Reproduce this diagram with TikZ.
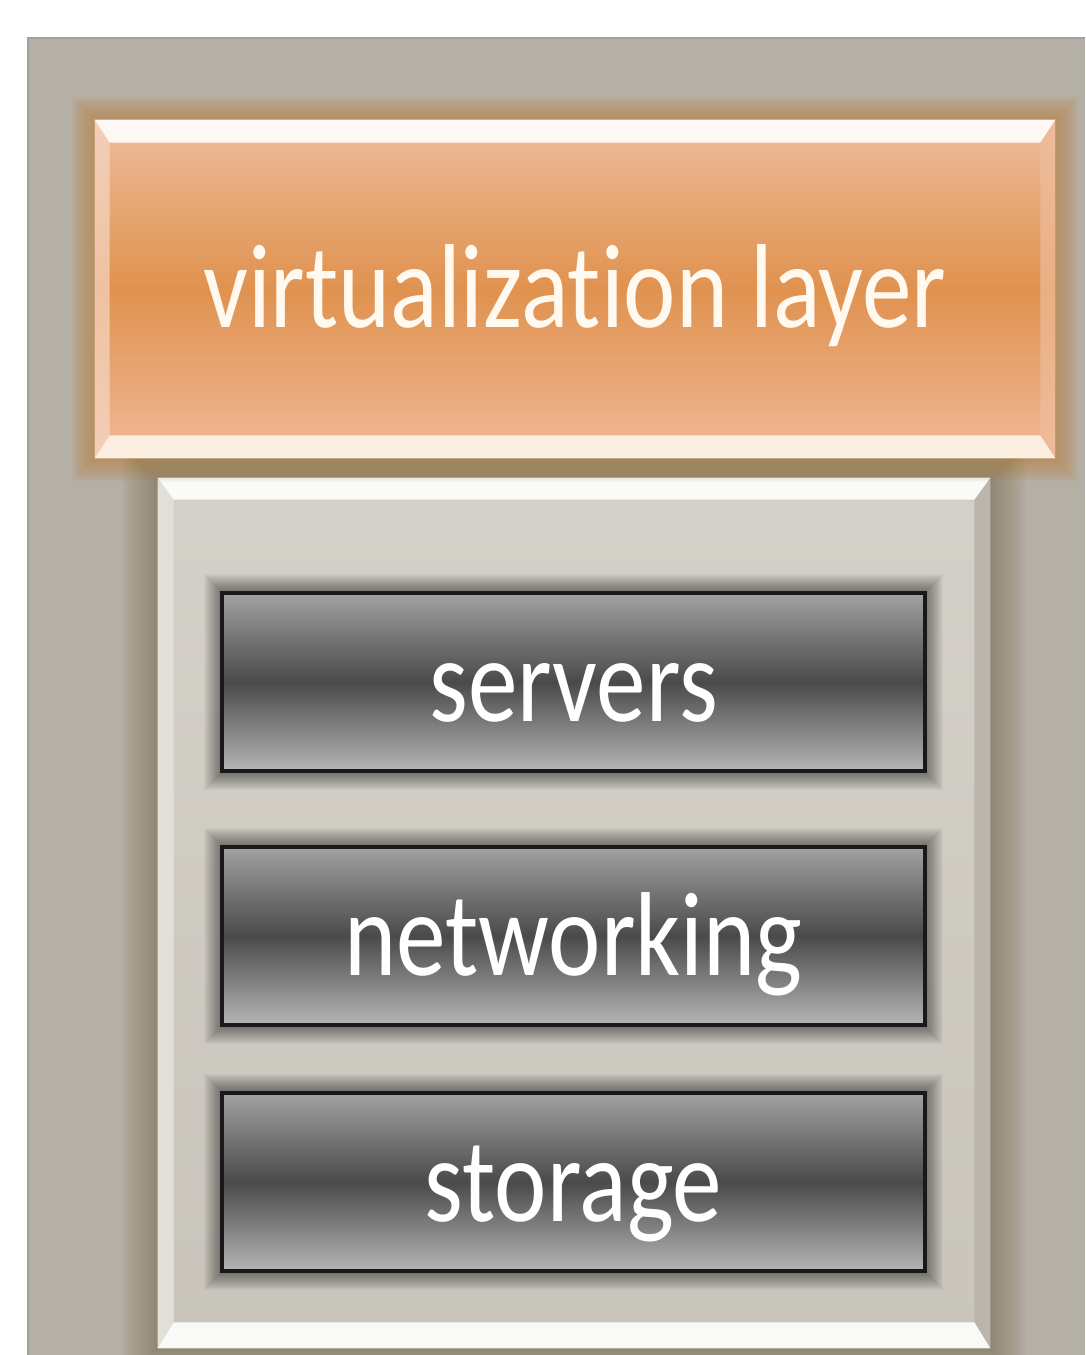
\documentclass[tikz,border=0pt]{standalone}
\usepackage{fontspec}
\setmainfont[Ligatures=NoCommon]{Carlito}
\definecolor{panelgray}{HTML}{B5B0A6}
\definecolor{panelline}{HTML}{A3A19C}
\definecolor{framegray}{HTML}{C9C5BC}
\definecolor{framedark}{HTML}{BBB6AC}
\definecolor{framelight}{HTML}{E2DFD8}
\definecolor{shadowbrown}{HTML}{7E715C}
\definecolor{glowbrown}{HTML}{B8853F}
\definecolor{orangetop}{HTML}{EEBD9C}
\definecolor{orangemid}{HTML}{E0924F}
\definecolor{orangebot}{HTML}{F0B999}
\definecolor{darktop}{HTML}{A2A2A2}
\definecolor{darkmid}{HTML}{4A4A4A}
\definecolor{darkbot}{HTML}{B6B6B6}
\definecolor{creamtext}{HTML}{FFF9F0}
\newcommand{\narrowtext}[1]{\scalebox{0.83}[1]{#1}}
\begin{document}
\begin{tikzpicture}[
    x=0.02cm, y=-0.02cm,
    layerbox/.style={rectangle, minimum width=19.2cm, minimum height=6.76cm, top color=orangetop, bottom color=orangebot, middle color=orangemid, text=creamtext, font=\fontsize{68}{80}\selectfont, text height=1.56cm, text depth=0pt, inner sep=0pt},
    stackframe/.style={rectangle, minimum width=16.64cm, minimum height=17.4cm, top color=framegray!80!white, bottom color=framegray, inner sep=0pt},
    hwbox/.style={rectangle, draw=black!90, line width=0.08cm, minimum width=14.06cm, minimum height=3.58cm, top color=darktop, bottom color=darkbot, middle color=darkmid, text=white, font=\fontsize{68}{80}\selectfont, text height=1.56cm, text depth=0pt, inner sep=0pt},
    bevel/.style={fill=white, opacity=0.9}
]
    \useasboundingbox (0,0) rectangle (1085,1355);
    \fill[white] (0,0) rectangle (1085,1355);

    % Background panel
    \fill[panelgray] (28,38) rectangle (1085,1355);
    \draw[panelline, line width=0.05cm] (28,1355) -- (28,38) -- (1085,38);

    % Stack frame with its shadow
    \node[stackframe] (stack) at (574,913) {};
    \foreach \g in {36,...,1}
        \fill[shadowbrown, opacity=0.018] ([shift={(-\g,-\g)}]stack.north west) rectangle ([shift={(\g,\g)}]stack.south east);
    \node[stackframe] (stack) at (574,913) {};
    \fill[framelight] (stack.north west) -- ([shift={(16,22)}]stack.north west) -- ([shift={(16,-26)}]stack.south west) -- (stack.south west) -- cycle;
    \fill[framedark] (stack.north east) -- ([shift={(-16,22)}]stack.north east) -- ([shift={(-16,-26)}]stack.south east) -- (stack.south east) -- cycle;
    \fill[bevel] (stack.north west) -- (stack.north east) -- ([shift={(-16,22)}]stack.north east) -- ([shift={(16,22)}]stack.north west) -- cycle;
    \fill[bevel] (stack.south west) -- (stack.south east) -- ([shift={(-16,-26)}]stack.south east) -- ([shift={(16,-26)}]stack.south west) -- cycle;

    % Virtualization layer with its glow
    \foreach \g in {24,...,1}
        \fill[glowbrown, opacity=0.035] (95-\g,120-\g) rectangle (1055+\g,458+\g);
    \node[layerbox] (virt) at (575,289) {\narrowtext{virtualization layer}};
    \fill[orangetop!60!white, opacity=0.7] (virt.north west) -- ([shift={(15,23)}]virt.north west) -- ([shift={(15,-23)}]virt.south west) -- (virt.south west) -- cycle;
    \fill[orangetop, opacity=0.7] (virt.north east) -- ([shift={(-15,23)}]virt.north east) -- ([shift={(-15,-23)}]virt.south east) -- (virt.south east) -- cycle;
    \fill[bevel] (virt.north west) -- (virt.north east) -- ([shift={(-15,23)}]virt.north east) -- ([shift={(15,23)}]virt.north west) -- cycle;
    \fill[creamtext, opacity=0.85] (virt.south west) -- (virt.south east) -- ([shift={(-15,-23)}]virt.south east) -- ([shift={(15,-23)}]virt.south west) -- cycle;

    % Hardware boxes with their shadows
    \foreach \y in {682, 936, 1182}
        \foreach \g in {18,...,1}
            \fill[black, opacity=0.028] (222-\g,\y-90-\g) rectangle (925+\g,\y+90+\g);
    \node[hwbox] (servers) at (573.5,682) {\narrowtext{servers}};
    \node[hwbox] (networking) at (573.5,936) {\narrowtext{networking}};
    \node[hwbox] (storage) at (573.5,1182) {\narrowtext{storage}};
\end{tikzpicture}
\end{document}
